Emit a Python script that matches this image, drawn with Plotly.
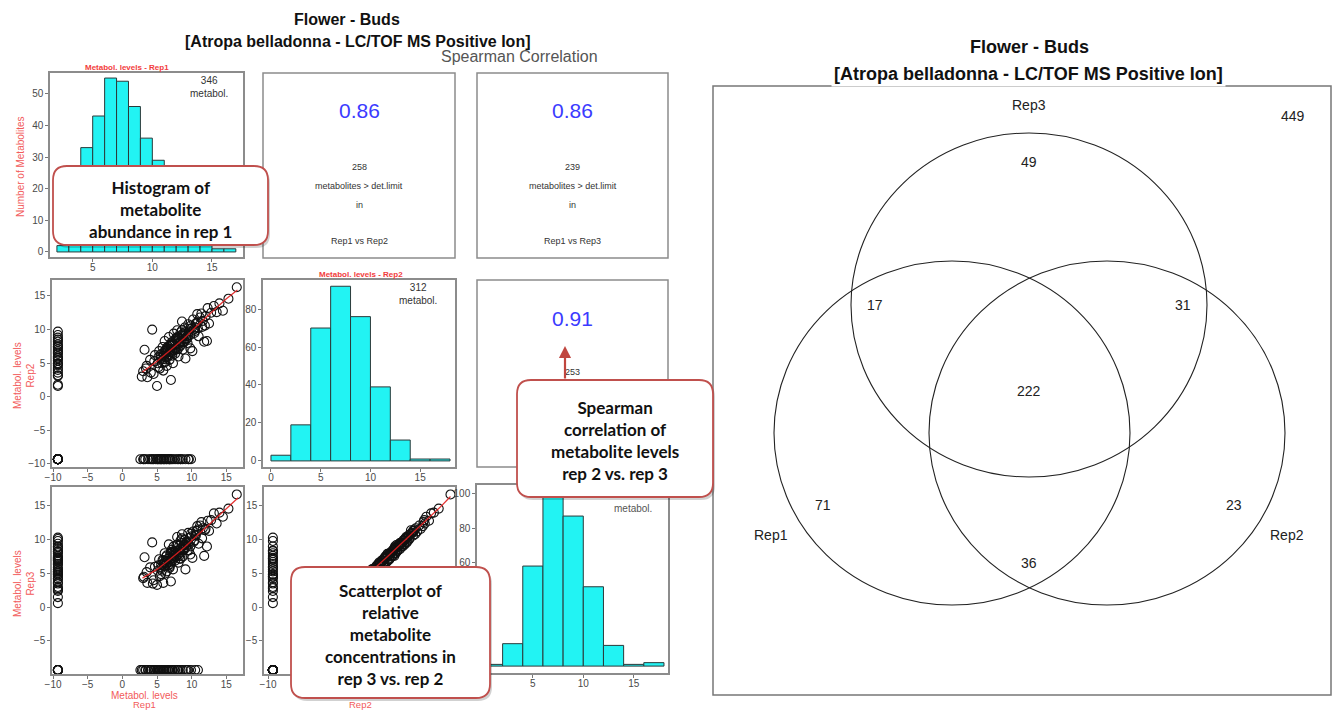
import plotly.graph_objects as go

W, H = 1334, 710

# ---------------- data ----------------
rep1_bin_left = [2, 3, 4, 5, 6, 7, 8, 9, 10, 11, 12, 13, 14, 15, 16]
rep1_bin_width = 1
rep1_counts = [2, 13, 33, 43, 55, 54, 46, 36, 29, 17, 9, 5, 2, 1, 1]

rep2_bin_left = [0, 2, 4, 6, 8, 10, 12, 14, 16]
rep2_bin_width = 2
rep2_counts = [3, 19, 70, 92, 76, 39, 11, 1, 1]

rep3_bin_left = [0, 2, 4, 6, 8, 10, 12, 14, 16]
rep3_bin_width = 2
rep3_counts = [1, 13, 58, 99, 87, 46, 12, 1, 2]

detected_totals = [346, 312, 319]

spearman_pairs = ["Rep1 vs Rep2", "Rep1 vs Rep3", "Rep2 vs Rep3"]
spearman_rho = [0.86, 0.86, 0.91]
spearman_n = [258, 239, 253]

# metabolites detected in all three replicates (log levels)
core_rep1 = [3.0, 3.2, 3.5, 3.6, 4.0, 4.3, 4.5, 4.7, 5.0, 5.1,
             5.3, 5.4, 5.6, 5.8, 5.9, 6.0, 6.1, 6.2, 6.3, 6.4,
             6.5, 6.6, 6.7, 6.8, 6.9, 7.0, 7.0, 7.1, 7.2, 7.3,
             7.4, 7.5, 7.6, 7.7, 7.8, 7.9, 8.0, 8.1, 8.2, 8.3,
             8.4, 8.5, 8.6, 8.7, 8.8, 8.9, 9.0, 9.1, 9.2, 9.4,
             9.5, 9.6, 9.8, 10.0, 10.1, 10.2, 10.4, 10.6, 10.8, 11.0,
             11.2, 11.5, 11.8, 12.0, 12.3, 12.5, 12.8, 13.2, 13.6, 14.0,
             14.5, 15.3, 16.5, 11.9, 12.2, 6.2, 6.9, 7.3, 7.6, 8.1,
             8.3, 8.8, 9.3, 9.7, 10.3, 5.5, 6.0, 10.9, 11.4, 7.9,
             5.2, 5.7, 6.1, 6.4, 6.7, 7.0, 7.2, 7.5, 7.7, 8.0,
             8.2, 8.5, 8.7, 9.0, 9.2, 9.5, 9.9, 10.5, 6.6, 7.4,
             8.6, 9.8, 5.9, 7.1, 8.9, 10.7, 11.6, 6.3, 7.8, 8.4]
core_rep2 = [3.8, 7.0, 4.6, 2.9, 5.5, 10.0, 3.4, 6.2, 1.6, 5.0,
             6.8, 4.2, 5.8, 7.4, 3.9, 6.1, 8.3, 5.2, 6.9, 4.6,
             7.2, 6.0, 8.9, 5.5, 7.6, 2.5, 6.6, 8.1, 7.0, 5.0,
             9.4, 7.8, 6.4, 8.6, 7.3, 9.9, 8.0, 6.0, 8.8, 7.5,
             9.6, 8.3, 11.2, 7.0, 9.0, 8.5, 10.3, 5.7, 9.3, 8.0,
             10.8, 9.7, 7.2, 10.2, 6.8, 11.5, 9.5, 10.9, 12.3, 9.0,
             11.8, 10.4, 8.2, 12.0, 13.2, 10.9, 12.5, 13.5, 12.6, 13.9,
             12.8, 14.6, 16.3, 10.6, 8.3, 6.6, 7.1, 7.9, 7.2, 8.7,
             8.1, 9.4, 9.0, 10.1, 10.0, 6.0, 5.6, 11.1, 12.4, 8.4,
             5.9, 5.0, 6.8, 7.3, 6.3, 7.8, 6.5, 8.4, 7.0, 8.9,
             7.9, 9.2, 8.1, 9.6, 8.7, 9.1, 10.6, 10.3, 7.5, 6.9,
             9.9, 9.2, 6.5, 7.7, 8.2, 11.0, 11.3, 5.9, 8.8, 7.7]
core_rep3 = [4.3, 7.4, 5.2, 3.6, 5.9, 9.6, 4.0, 6.0, 3.3, 5.4,
             7.1, 4.6, 6.3, 7.0, 3.6, 6.5, 8.0, 5.0, 7.5, 5.3,
             6.8, 6.2, 9.3, 5.8, 7.9, 3.8, 6.4, 8.5, 7.3, 5.6,
             9.0, 8.2, 6.9, 8.3, 7.6, 10.4, 7.7, 6.6, 9.1, 7.2,
             9.9, 8.8, 10.8, 7.5, 8.6, 9.2, 10.0, 5.6, 9.6, 8.4,
             11.0, 9.3, 7.8, 10.5, 7.3, 11.2, 9.9, 10.6, 12.0, 9.4,
             12.1, 10.2, 7.6, 11.6, 12.8, 11.3, 12.9, 13.9, 12.4, 14.0,
             13.4, 14.6, 16.7, 11.4, 9.0, 6.9, 6.7, 7.6, 7.9, 8.4,
             8.6, 9.1, 9.5, 10.3, 9.7, 5.7, 6.1, 11.5, 12.6, 8.0,
             6.2, 5.4, 6.5, 7.7, 6.7, 8.2, 6.9, 8.1, 7.4, 9.3,
             7.6, 9.5, 8.5, 9.3, 8.9, 9.5, 10.9, 10.7, 7.2, 7.3,
             10.2, 9.0, 6.9, 8.1, 8.5, 11.3, 11.7, 6.3, 9.2, 8.1]

# detected in Rep1 & Rep2 only
r12_rep1 = [2.8, 3.4, 4.1, 4.6, 5.2, 5.5, 6.0, 6.6, 7.2, 8.0, 9.3, 10.5, 10.9]
r12_rep2 = [3.0, 4.2, 3.6, 5.3, 4.4, 6.3, 5.1, 6.9, 6.1, 7.1, 8.6, 9.8, 10.2]
# detected in Rep1 & Rep3 only
r13_rep1 = [3.1, 4.4, 5.6, 6.8, 8.4, 9.6]
r13_rep3 = [4.5, 3.5, 4.9, 6.0, 7.2, 8.4]
# detected in Rep2 & Rep3 only
r23_rep2 = [1.6, 3.2, 4.3, 5.0, 5.8, 6.4, 7.1, 7.8, 8.5, 9.7,
            3.6, 4.7, 5.4, 6.0, 6.8, 7.5, 8.2, 9.2]
r23_rep3 = [2.6, 3.5, 4.8, 5.6, 5.3, 6.9, 7.4, 8.2, 8.9, 10.1,
            4.2, 5.1, 5.0, 6.4, 7.2, 7.1, 8.6, 9.4]
# detected in one replicate only
only1_rep1 = [2.6, 3.0, 3.3, 3.7, 4.0, 4.2, 4.5, 4.8, 5.0, 5.2, 5.4, 5.7,
              5.9, 6.1, 6.4, 6.6, 6.9, 7.3, 7.6, 8.1, 8.7, 9.1, 9.5, 9.9,
              5.1, 5.5, 6.0, 6.3, 6.8, 7.1, 7.9, 8.4]
only2_rep2 = [1.8, 3.1, 4.0, 4.9, 5.7, 6.6, 7.4, 8.8]
only3_rep3 = [0.6, 1.5, 2.4, 3.0, 3.7, 4.2, 4.8, 5.3, 5.9, 6.4, 7.0, 7.6,
              8.3, 9.0, 9.8, 10.3, 2.8, 4.5, 5.6, 6.7, 7.3, 8.0]

not_detected_level = -9.3

# lowess smooth lines (red)
lowess21_x = [2.9, 5.0, 7.0, 9.0, 11.0, 13.0, 15.0, 16.6]
lowess21_y = [3.7, 5.3, 7.0, 8.8, 10.8, 12.7, 14.6, 15.9]
lowess31_x = [2.9, 5.0, 7.0, 9.0, 11.0, 13.0, 15.0, 16.7]
lowess31_y = [4.3, 5.6, 7.2, 8.9, 10.8, 12.7, 14.6, 16.2]
lowess32_x = [3.0, 5.0, 7.0, 9.0, 11.0, 13.0, 15.0, 16.3]
lowess32_y = [3.6, 5.4, 7.3, 9.2, 11.1, 13.0, 15.0, 16.4]

venn_set_labels = ["Rep1", "Rep2", "Rep3"]
venn_region_names = ["Rep1 only", "Rep2 only", "Rep3 only", "Rep1&Rep3",
                     "Rep2&Rep3", "Rep1&Rep2", "Rep1&Rep2&Rep3"]
venn_region_counts = [71, 23, 49, 17, 31, 36, 222]
venn_total = 449

# ---------------- helpers ----------------
def fx(px):
    return px / W


def fy(py):
    return 1 - py / H


n12, n13, n23 = len(r12_rep1), len(r13_rep1), len(r23_rep2)
n1, n2, n3 = len(only1_rep1), len(only2_rep2), len(only3_rep3)
rep1 = core_rep1 + r12_rep1 + r13_rep1 + [None] * n23 + only1_rep1 + [None] * n2 + [None] * n3
rep2 = core_rep2 + r12_rep2 + [None] * n13 + r23_rep2 + [None] * n1 + only2_rep2 + [None] * n3
rep3 = core_rep3 + [None] * n12 + r13_rep3 + r23_rep3 + [None] * n1 + [None] * n2 + only3_rep3


def pair(a, b):
    xs, ys = [], []
    for u, v in zip(a, b):
        xs.append(u if u is not None else not_detected_level)
        ys.append(v if v is not None else not_detected_level)
    return xs, ys


FONT = "Liberation Sans, Arial, sans-serif"
AX = dict(showline=True, mirror=True, linecolor="#8c8c8c", linewidth=1.5,
          ticks="outside", ticklen=3, tickcolor="#777", tickwidth=1,
          tickfont=dict(size=10, color="#4a4a4a", family=FONT),
          showgrid=False, zeroline=False, fixedrange=True)

# (box l, r, t, b), x range, y range, x ticks, y ticks  (ticks hidden by callouts omitted)
panels = {
    1: ((50, 243, 73, 257), [1.42, 17.6], [-1.6, 56.6], [5, 10, 15], [0, 10, 20, 30, 40, 50]),
    2: ((52, 243, 280, 467), [-10.15, 17.4], [-10.45, 17.38], [-10, -5, 0, 5, 10, 15], [-10, -5, 0, 5, 10, 15]),
    3: ((263, 455, 280, 467), [-0.8, 18.5], [-3.2, 95.3], [0, 5, 10, 15], [0, 20, 40, 60, 80]),
    4: ((52, 243, 487, 674), [-10.15, 17.4], [-9.89, 17.8], [-10, -5, 0, 5, 10, 15], [-5, 0, 5, 10, 15]),
    5: ((264, 455, 487, 674), [-10.58, 16.95], [-9.89, 17.8], [-10], [-5, 0, 5, 10, 15]),
    6: ((477, 668, 485, 673), [-0.54, 18.4], [-4, 105], [5, 10, 15], [60, 80, 100]),
}

layout_axes = {}
for i, ((l, r, t, b), xr, yr, xt, yt) in panels.items():
    xn = "xaxis" if i == 1 else f"xaxis{i}"
    yn = "yaxis" if i == 1 else f"yaxis{i}"
    xid = "x" if i == 1 else f"x{i}"
    yid = "y" if i == 1 else f"y{i}"
    layout_axes[xn] = dict(AX, domain=[fx(l), fx(r)], range=xr, tickvals=xt, anchor=yid,
                           ticklabelstandoff=-3)
    layout_axes[yn] = dict(AX, domain=[fy(b), fy(t)], range=yr, tickvals=yt, anchor=xid)

fig = go.Figure()

BAR_COLOR = "#22f3f3"
BAR_LINE = "#2b3a3a"


def add_hist(lefts, width, counts, ax):
    fig.add_trace(go.Bar(
        x=[v + width / 2 for v in lefts], y=counts, width=width,
        marker=dict(color=BAR_COLOR, line=dict(color=BAR_LINE, width=1)),
        xaxis="x" if ax == 1 else f"x{ax}", yaxis="y" if ax == 1 else f"y{ax}",
        showlegend=False, hoverinfo="skip"))


def add_scatter(a, b, lx, ly, ax):
    xs, ys = pair(a, b)
    fig.add_trace(go.Scatter(
        x=xs, y=ys, mode="markers",
        marker=dict(symbol="circle-open", size=9, color="#111", line=dict(width=1.1)),
        xaxis=f"x{ax}", yaxis=f"y{ax}", showlegend=False, hoverinfo="skip"))
    fig.add_trace(go.Scatter(
        x=lx, y=ly, mode="lines", line=dict(color="rgba(225,30,30,0.9)", width=1.3),
        xaxis=f"x{ax}", yaxis=f"y{ax}", showlegend=False, hoverinfo="skip"))


add_hist(rep1_bin_left, rep1_bin_width, rep1_counts, 1)
add_scatter(rep1, rep2, lowess21_x, lowess21_y, 2)
add_hist(rep2_bin_left, rep2_bin_width, rep2_counts, 3)
add_scatter(rep1, rep3, lowess31_x, lowess31_y, 4)
add_scatter(rep2, rep3, lowess32_x, lowess32_y, 5)
add_hist(rep3_bin_left, rep3_bin_width, rep3_counts, 6)

annotations = []


def ann(text, x, y, size=10, color="#333", bold=False, family=FONT, angle=0, **kw):
    if bold:
        text = f"<b>{text}</b>"
    d = dict(text=text, x=fx(x), y=fy(y), xref="paper", yref="paper",
             showarrow=False, xanchor="center", yanchor="middle", textangle=angle,
             font=dict(size=size, color=color, family=family))
    d.update(kw)
    annotations.append(d)


# titles
ann("Flower - Buds", 347, 20, size=16, color="#111", bold=True)
ann("[Atropa belladonna - LC/TOF MS Positive Ion]", 358, 41, size=16, color="#111", bold=True)
ann("Spearman Correlation", 519, 56, size=16, color="#555")

# histogram labels
RED = "#f23c3c"
ann("Metabol. levels - Rep1", 127, 68, size=8, color=RED, bold=True)
ann(f"{detected_totals[0]}<br>metabol.", 209, 87, size=10, color="#333")
ann("Metabol. levels - Rep2", 361, 275, size=8, color=RED, bold=True)
ann(f"{detected_totals[1]}<br>metabol.", 418, 294, size=10, color="#333")
ann("metabol.", 633, 508, size=10, color="#555")

# axis titles
ann("Number of Metabolites", 20, 167, size=10, color="#f25a5a", angle=-90)
ann("Metabol. levels<br>Rep2", 24, 375, size=10, color="#f25a5a", angle=-90)
ann("Metabol. levels<br>Rep3", 24, 583, size=10, color="#f25a5a", angle=-90)
ann("Metabol. levels", 144, 695, size=10, color="#f25a5a")
ann("Rep1", 144, 704.5, size=9.5, color="#f25a5a")
ann("Rep2", 360, 704.5, size=9.5, color="#f25a5a")

# spearman panels
corr_boxes = [(263, 455, 73, 258), (477, 668, 73, 258), (477, 668, 280, 467)]
BLUE = "#3b3bff"
for k, (l, r, t, b) in enumerate(corr_boxes[:2]):
    cx = (l + r) / 2
    ann(f"{spearman_rho[k]:.2f}", cx, 110, size=21, color=BLUE)
    ann(str(spearman_n[k]), cx, 167, size=9, color="#333")
    ann("metabolites &gt; det.limit", cx, 186, size=9, color="#333")
    ann("in", cx, 205, size=9, color="#333")
    ann(spearman_pairs[k], cx, 241, size=9, color="#333")
cx23 = (477 + 668) / 2
ann(f"{spearman_rho[2]:.2f}", cx23, 318, size=21, color=BLUE)
ann(str(spearman_n[2]), cx23, 372, size=9, color="#333")

# venn diagram
venn_circles = {"Rep1": (952, 433), "Rep2": (1107, 433), "Rep3": (1029, 305)}
venn_rx, venn_ry = 178, 172
venn_count_pos = [(823, 505), (1234, 505), (1029, 162), (875, 305),
                  (1183, 305), (1029, 563), (1029, 391)]
venn_label_pos = [(771, 535), (1287, 535), (1029, 105)]
for name, cnt, (px, py) in zip(venn_region_names, venn_region_counts, venn_count_pos):
    ann(str(cnt), px, py, size=14, color="#222")
for lab, (px, py) in zip(venn_set_labels, venn_label_pos):
    ann(lab, px, py, size=14, color="#222")
ann(str(venn_total), 1293, 116, size=14, color="#222")
ann("Flower - Buds", 1029, 47, size=18, color="#111", bold=True)
ann("[Atropa belladonna - LC/TOF MS Positive Ion]", 1028, 74, size=18, color="#111",
    bold=True, bgcolor="white", borderpad=2)

# callout texts
CALL_FONT = "Lato, Open Sans, sans-serif"
ann("Histogram of<br>metabolite<br>abundance in rep 1", 160, 209, size=17, color="#111",
    bold=True, family=CALL_FONT)
ann("Spearman<br>correlation of<br>metabolite levels<br>rep 2 vs. rep 3", 615, 441, size=17,
    color="#111", bold=True, family=CALL_FONT)
ann("Scatterplot of<br>relative<br>metabolite<br>concentrations in<br>rep 3 vs. rep 2", 391, 634,
    size=17, color="#111", bold=True, family=CALL_FONT)

# arrow from callout to 0.91
annotations.append(dict(text="", x=fx(565), y=fy(346), xref="paper", yref="paper",
                        showarrow=True, ax=0, ay=34, arrowhead=2, arrowsize=1.1,
                        arrowwidth=2.2, arrowcolor="#c0463f"))

shapes = []
for (l, r, t, b) in corr_boxes:
    shapes.append(dict(type="rect", xref="paper", yref="paper", x0=fx(l), x1=fx(r),
                       y0=fy(b), y1=fy(t), line=dict(color="#8c8c8c", width=1.5), layer="below"))
# venn frame
shapes.append(dict(type="rect", xref="paper", yref="paper", x0=fx(713), x1=fx(1331),
                   y0=fy(695), y1=fy(86), line=dict(color="#777", width=1.5), layer="below"))
for lab in venn_set_labels:
    cx, cy = venn_circles[lab]
    shapes.append(dict(type="circle", xref="paper", yref="paper",
                       x0=fx(cx - venn_rx), x1=fx(cx + venn_rx),
                       y0=fy(cy + venn_ry), y1=fy(cy - venn_ry),
                       line=dict(color="#222", width=1.1), layer="below"))


def rrect(l, t, r, b, rad):
    def P(x, y):
        return f"{fx(x):.5f},{fy(y):.5f}"
    return (f"M {P(l + rad, t)} L {P(r - rad, t)} Q {P(r, t)} {P(r, t + rad)} "
            f"L {P(r, b - rad)} Q {P(r, b)} {P(r - rad, b)} L {P(l + rad, b)} "
            f"Q {P(l, b)} {P(l, b - rad)} L {P(l, t + rad)} Q {P(l, t)} {P(l + rad, t)} Z")


callouts = [(53, 166, 268, 245), (517, 380, 713, 497), (291, 567, 490, 698)]
for (l, t, r, b) in callouts:
    shapes.append(dict(type="path", xref="paper", yref="paper",
                       path=rrect(l + 2, t + 3, r + 2, b + 3, 14),
                       fillcolor="rgba(0,0,0,0.18)", line=dict(width=0), layer="above"))
    shapes.append(dict(type="path", xref="paper", yref="paper",
                       path=rrect(l, t, r, b, 14),
                       fillcolor="white", line=dict(color="#c0504d", width=1.8), layer="above"))

fig.update_layout(
    width=W, height=H, margin=dict(l=0, r=0, t=0, b=0),
    paper_bgcolor="white", plot_bgcolor="white", template="none",
    showlegend=False, annotations=annotations, shapes=shapes, **layout_axes)

fig.write_html("out.html", config={"displayModeBar": False},
               post_script="document.body.style.margin='0';")
